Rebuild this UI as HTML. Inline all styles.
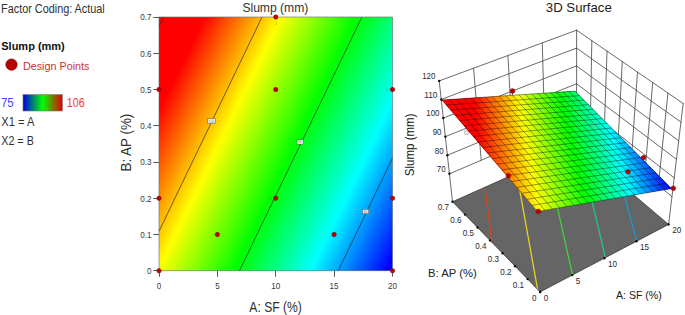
<!DOCTYPE html>
<html><head><meta charset="utf-8"><style>html,body{margin:0;padding:0;background:#fff;overflow:hidden}svg{display:block}</style></head>
<body>
<svg width="685" height="315" viewBox="0 0 685 315" font-family="Liberation Sans, sans-serif">
<defs>
<linearGradient id="lg" x1="0" y1="0" x2="1" y2="0"><stop offset="0" stop-color="#0000e6"/><stop offset="0.5" stop-color="#00ff00"/><stop offset="1" stop-color="#e60000"/></linearGradient>
<linearGradient id="cg" gradientUnits="userSpaceOnUse" x1="167.9" y1="91.7" x2="415.5" y2="211.5"><stop offset="0" stop-color="#ff0000"/><stop offset="0.25" stop-color="#ffff00"/><stop offset="0.5" stop-color="#00ff00"/><stop offset="0.75" stop-color="#00ffff"/><stop offset="1" stop-color="#0000ff"/></linearGradient>
</defs>
<rect width="685" height="315" fill="#fff"/>
<text x="1.1" y="13" font-size="12.14" fill="#303030" textLength="103.65" lengthAdjust="spacingAndGlyphs" >Factor Coding: Actual</text>
<text x="1.25" y="50" font-size="10.47" fill="#111" textLength="63.55" lengthAdjust="spacingAndGlyphs" font-weight="bold" >Slump (mm)</text>
<circle cx="11.5" cy="64.6" r="5.6" fill="#bb0000" stroke="#7a0000" stroke-width="0.8"/>
<text x="22.95" y="70" font-size="11.63" fill="#c83232" textLength="66.55" lengthAdjust="spacingAndGlyphs" >Design Points</text>
<text x="0.9" y="107" font-size="12.58" fill="#4646ff" textLength="12.75" lengthAdjust="spacingAndGlyphs" >75</text>
<rect x="23" y="94.6" width="39.4" height="16.4" fill="url(#lg)" stroke="#777" stroke-width="0.6"/>
<text x="66.8" y="107" font-size="12.58" fill="#ff3232" textLength="17.85" lengthAdjust="spacingAndGlyphs" >106</text>
<text x="1.25" y="126" font-size="12.35" fill="#303030" textLength="33.2" lengthAdjust="spacingAndGlyphs" >X1 = A</text>
<text x="1.25" y="145" font-size="12.35" fill="#303030" textLength="32.55" lengthAdjust="spacingAndGlyphs" >X2 = B</text>
<rect x="159" y="17" width="233.5" height="253.8" fill="url(#cg)"/>
<line x1="163.6" y1="17" x2="159" y2="26.4" stroke="#202020" stroke-width="0.65"/>
<line x1="262" y1="17" x2="159" y2="231.3" stroke="#202020" stroke-width="0.65"/>
<line x1="361.9" y1="17" x2="239.4" y2="270.8" stroke="#202020" stroke-width="0.65"/>
<line x1="392.5" y1="158.1" x2="338.2" y2="270.8" stroke="#202020" stroke-width="0.65"/>
<rect x="159" y="17" width="233.5" height="253.8" fill="none" stroke="#666" stroke-width="0.6"/>
<rect x="207.55" y="118.85" width="7.9" height="4.7" fill="#f6f6f6" stroke="#555" stroke-width="0.5"/>
<text x="211.5" y="122.5" font-size="3.6" fill="#777" text-anchor="middle">100</text>
<rect x="297.05" y="139.85" width="6.3" height="4.3" fill="#f6f6f6" stroke="#555" stroke-width="0.5"/>
<text x="300.2" y="143.3" font-size="3.6" fill="#777" text-anchor="middle">90</text>
<rect x="362.3" y="209.25" width="6.4" height="4.5" fill="#f6f6f6" stroke="#555" stroke-width="0.5"/>
<text x="365.5" y="212.8" font-size="3.6" fill="#777" text-anchor="middle">80</text>
<line x1="153.3" y1="270.5" x2="159" y2="270.5" stroke="#555" stroke-width="1"/>
<text x="151.6" y="274.1" font-size="8.8" fill="#3a3a3a" text-anchor="end" textLength="4.5" lengthAdjust="spacingAndGlyphs" >0</text>
<line x1="153.3" y1="234.5" x2="159" y2="234.5" stroke="#555" stroke-width="1"/>
<text x="151.6" y="237.84" font-size="8.8" fill="#3a3a3a" text-anchor="end" textLength="11.26" lengthAdjust="spacingAndGlyphs" >0.1</text>
<line x1="153.3" y1="198.5" x2="159" y2="198.5" stroke="#555" stroke-width="1"/>
<text x="151.6" y="201.59" font-size="8.8" fill="#3a3a3a" text-anchor="end" textLength="11.26" lengthAdjust="spacingAndGlyphs" >0.2</text>
<line x1="153.3" y1="162.5" x2="159" y2="162.5" stroke="#555" stroke-width="1"/>
<text x="151.6" y="165.33" font-size="8.8" fill="#3a3a3a" text-anchor="end" textLength="11.26" lengthAdjust="spacingAndGlyphs" >0.3</text>
<line x1="153.3" y1="125.5" x2="159" y2="125.5" stroke="#555" stroke-width="1"/>
<text x="151.6" y="129.07" font-size="8.8" fill="#3a3a3a" text-anchor="end" textLength="11.26" lengthAdjust="spacingAndGlyphs" >0.4</text>
<line x1="153.3" y1="89.5" x2="159" y2="89.5" stroke="#555" stroke-width="1"/>
<text x="151.6" y="92.81" font-size="8.8" fill="#3a3a3a" text-anchor="end" textLength="11.26" lengthAdjust="spacingAndGlyphs" >0.5</text>
<line x1="153.3" y1="53.5" x2="159" y2="53.5" stroke="#555" stroke-width="1"/>
<text x="151.6" y="56.56" font-size="8.8" fill="#3a3a3a" text-anchor="end" textLength="11.26" lengthAdjust="spacingAndGlyphs" >0.6</text>
<line x1="153.3" y1="17.5" x2="159" y2="17.5" stroke="#555" stroke-width="1"/>
<text x="151.6" y="20.3" font-size="8.8" fill="#3a3a3a" text-anchor="end" textLength="11.26" lengthAdjust="spacingAndGlyphs" >0.7</text>
<line x1="159.5" y1="270.8" x2="159.5" y2="276.7" stroke="#555" stroke-width="1"/>
<text x="159" y="289.1" font-size="8.8" fill="#3a3a3a" text-anchor="middle" textLength="4.5" lengthAdjust="spacingAndGlyphs" >0</text>
<line x1="217.5" y1="270.8" x2="217.5" y2="276.7" stroke="#555" stroke-width="1"/>
<text x="217.38" y="289.1" font-size="8.8" fill="#3a3a3a" text-anchor="middle" textLength="4.5" lengthAdjust="spacingAndGlyphs" >5</text>
<line x1="275.5" y1="270.8" x2="275.5" y2="276.7" stroke="#555" stroke-width="1"/>
<text x="275.75" y="289.1" font-size="8.8" fill="#3a3a3a" text-anchor="middle" textLength="9.01" lengthAdjust="spacingAndGlyphs" >10</text>
<line x1="334.5" y1="270.8" x2="334.5" y2="276.7" stroke="#555" stroke-width="1"/>
<text x="334.12" y="289.1" font-size="8.8" fill="#3a3a3a" text-anchor="middle" textLength="9.01" lengthAdjust="spacingAndGlyphs" >15</text>
<line x1="392.5" y1="270.8" x2="392.5" y2="276.7" stroke="#555" stroke-width="1"/>
<text x="392.5" y="289.1" font-size="8.8" fill="#3a3a3a" text-anchor="middle" textLength="9.01" lengthAdjust="spacingAndGlyphs" >20</text>
<text x="249.35" y="311.9" font-size="14.46" fill="#303030" textLength="52.4" lengthAdjust="spacingAndGlyphs" >A: SF (%)</text>
<text transform="translate(131.2,170.5) rotate(-90)" x="-1.00" y="0" font-size="14.97" fill="#303030" textLength="57.75" lengthAdjust="spacingAndGlyphs">B: AP (%)</text>
<text x="242.4" y="11.6" font-size="12.43" fill="#303030" textLength="65.85" lengthAdjust="spacingAndGlyphs" >Slump (mm)</text>
<circle cx="275.75" cy="17" r="2.2" fill="#c00000" stroke="#800000" stroke-width="0.5"/>
<circle cx="159" cy="89.51" r="2.2" fill="#c00000" stroke="#800000" stroke-width="0.5"/>
<circle cx="275.75" cy="89.51" r="2.2" fill="#c00000" stroke="#800000" stroke-width="0.5"/>
<circle cx="392.5" cy="89.51" r="2.2" fill="#c00000" stroke="#800000" stroke-width="0.5"/>
<circle cx="159" cy="198.29" r="2.2" fill="#c00000" stroke="#800000" stroke-width="0.5"/>
<circle cx="275.75" cy="198.29" r="2.2" fill="#c00000" stroke="#800000" stroke-width="0.5"/>
<circle cx="392.5" cy="198.29" r="2.2" fill="#c00000" stroke="#800000" stroke-width="0.5"/>
<circle cx="217.38" cy="234.54" r="2.2" fill="#c00000" stroke="#800000" stroke-width="0.5"/>
<circle cx="334.12" cy="234.54" r="2.2" fill="#c00000" stroke="#800000" stroke-width="0.5"/>
<circle cx="159" cy="270.8" r="2.2" fill="#c00000" stroke="#800000" stroke-width="0.5"/>
<circle cx="392.5" cy="270.8" r="2.2" fill="#c00000" stroke="#800000" stroke-width="0.5"/>
<line x1="449.43" y1="173.82" x2="576.6" y2="119.51" stroke="#444" stroke-width="0.8" stroke-linecap="round"/>
<line x1="576.6" y1="119.51" x2="671.97" y2="196.5" stroke="#444" stroke-width="0.8" stroke-linecap="round"/>
<line x1="447.38" y1="155.24" x2="576.6" y2="101.65" stroke="#444" stroke-width="0.8" stroke-linecap="round"/>
<line x1="576.6" y1="101.65" x2="674.22" y2="177.9" stroke="#444" stroke-width="0.8" stroke-linecap="round"/>
<line x1="445.34" y1="136.65" x2="576.6" y2="83.78" stroke="#444" stroke-width="0.8" stroke-linecap="round"/>
<line x1="576.6" y1="83.78" x2="676.46" y2="159.3" stroke="#444" stroke-width="0.8" stroke-linecap="round"/>
<line x1="443.29" y1="118.07" x2="576.6" y2="65.92" stroke="#444" stroke-width="0.8" stroke-linecap="round"/>
<line x1="576.6" y1="65.92" x2="678.71" y2="140.7" stroke="#444" stroke-width="0.8" stroke-linecap="round"/>
<line x1="441.25" y1="99.48" x2="576.6" y2="48.06" stroke="#444" stroke-width="0.8" stroke-linecap="round"/>
<line x1="576.6" y1="48.06" x2="680.95" y2="122.1" stroke="#444" stroke-width="0.8" stroke-linecap="round"/>
<line x1="439.2" y1="80.9" x2="576.6" y2="30.2" stroke="#444" stroke-width="0.8" stroke-linecap="round"/>
<line x1="576.6" y1="30.2" x2="683.2" y2="103.5" stroke="#444" stroke-width="0.8" stroke-linecap="round"/>
<line x1="481.22" y1="160.24" x2="473.55" y2="68.23" stroke="#444" stroke-width="0.8" stroke-linecap="round"/>
<line x1="513.02" y1="146.67" x2="507.9" y2="55.55" stroke="#444" stroke-width="0.8" stroke-linecap="round"/>
<line x1="544.81" y1="133.09" x2="542.25" y2="42.88" stroke="#444" stroke-width="0.8" stroke-linecap="round"/>
<line x1="658.35" y1="185.5" x2="667.97" y2="93.03" stroke="#444" stroke-width="0.8" stroke-linecap="round"/>
<line x1="644.72" y1="174.5" x2="652.74" y2="82.56" stroke="#444" stroke-width="0.8" stroke-linecap="round"/>
<line x1="631.1" y1="163.5" x2="637.51" y2="72.09" stroke="#444" stroke-width="0.8" stroke-linecap="round"/>
<line x1="617.47" y1="152.5" x2="622.29" y2="61.61" stroke="#444" stroke-width="0.8" stroke-linecap="round"/>
<line x1="603.85" y1="141.51" x2="607.06" y2="51.14" stroke="#444" stroke-width="0.8" stroke-linecap="round"/>
<line x1="590.22" y1="130.51" x2="591.83" y2="40.67" stroke="#444" stroke-width="0.8" stroke-linecap="round"/>
<line x1="452.5" y1="201.7" x2="439.2" y2="80.9" stroke="#444" stroke-width="0.8" stroke-linecap="round"/>
<line x1="576.6" y1="146.3" x2="576.6" y2="30.2" stroke="#444" stroke-width="0.8" stroke-linecap="round"/>
<line x1="668.6" y1="224.4" x2="683.2" y2="103.5" stroke="#444" stroke-width="0.8" stroke-linecap="round"/>
<clipPath id="fc"><polygon points="540.1,292 668.6,224.4 576.6,146.3 452.5,201.7"/></clipPath>
<polygon points="540.1,292 668.6,224.4 576.6,146.3 452.5,201.7" fill="#656565"/>
<g clip-path="url(#fc)">
<line x1="475.1" y1="106.7" x2="491.93" y2="243.38" stroke="#d2461e" stroke-width="1.3"/>
<line x1="494.95" y1="52.5" x2="538.56" y2="294.75" stroke="#e6d21e" stroke-width="1.3"/>
<line x1="536.1" y1="112.4" x2="573.33" y2="278.66" stroke="#3cd23c" stroke-width="1.3"/>
<line x1="573.25" y1="122.8" x2="606.14" y2="260.5" stroke="#1ec882" stroke-width="1.3"/>
<line x1="608.95" y1="139.1" x2="637.25" y2="242.63" stroke="#1e96d2" stroke-width="1.3"/>
</g>
<polygon points="540.1,292 668.6,224.4 576.6,146.3 452.5,201.7" fill="none" stroke="#2a2a2a" stroke-width="0.7"/>
<circle cx="466.6" cy="132.4" r="2.4" fill="#f5dada" stroke="#a5a5a5" stroke-width="0.6"/>
<defs>
<linearGradient id="sg" gradientUnits="userSpaceOnUse" x1="485.99" y1="162.44" x2="656.26" y2="123.17"><stop offset="0" stop-color="#f00"/><stop offset="0.25" stop-color="#ff0"/><stop offset="0.5" stop-color="#0f0"/><stop offset="0.75" stop-color="#0ff"/><stop offset="1" stop-color="#00f"/></linearGradient>
<linearGradient id="sg00" gradientUnits="userSpaceOnUse" x1="488.9" y1="204.24" x2="679.27" y2="166.44"><stop offset="0" stop-color="#f00"/><stop offset="0.25" stop-color="#ff0"/><stop offset="0.5" stop-color="#0f0"/><stop offset="0.75" stop-color="#0ff"/><stop offset="1" stop-color="#00f"/></linearGradient>
<linearGradient id="sg01" gradientUnits="userSpaceOnUse" x1="483.03" y1="170.76" x2="672.91" y2="138.1"><stop offset="0" stop-color="#f00"/><stop offset="0.25" stop-color="#ff0"/><stop offset="0.5" stop-color="#0f0"/><stop offset="0.75" stop-color="#0ff"/><stop offset="1" stop-color="#00f"/></linearGradient>
<linearGradient id="sg02" gradientUnits="userSpaceOnUse" x1="478.28" y1="139.71" x2="667.62" y2="112.3"><stop offset="0" stop-color="#f00"/><stop offset="0.25" stop-color="#ff0"/><stop offset="0.5" stop-color="#0f0"/><stop offset="0.75" stop-color="#0ff"/><stop offset="1" stop-color="#00f"/></linearGradient>
<linearGradient id="sg03" gradientUnits="userSpaceOnUse" x1="474.56" y1="111.02" x2="663.28" y2="88.97"><stop offset="0" stop-color="#f00"/><stop offset="0.25" stop-color="#ff0"/><stop offset="0.5" stop-color="#0f0"/><stop offset="0.75" stop-color="#0ff"/><stop offset="1" stop-color="#00f"/></linearGradient>
<linearGradient id="sg10" gradientUnits="userSpaceOnUse" x1="494.78" y1="208.66" x2="670.99" y2="165.12"><stop offset="0" stop-color="#f00"/><stop offset="0.25" stop-color="#ff0"/><stop offset="0.5" stop-color="#0f0"/><stop offset="0.75" stop-color="#0ff"/><stop offset="1" stop-color="#00f"/></linearGradient>
<linearGradient id="sg11" gradientUnits="userSpaceOnUse" x1="487.33" y1="174.9" x2="663.46" y2="135.82"><stop offset="0" stop-color="#f00"/><stop offset="0.25" stop-color="#ff0"/><stop offset="0.5" stop-color="#0f0"/><stop offset="0.75" stop-color="#0ff"/><stop offset="1" stop-color="#00f"/></linearGradient>
<linearGradient id="sg12" gradientUnits="userSpaceOnUse" x1="481.06" y1="143.31" x2="657.11" y2="108.8"><stop offset="0" stop-color="#f00"/><stop offset="0.25" stop-color="#ff0"/><stop offset="0.5" stop-color="#0f0"/><stop offset="0.75" stop-color="#0ff"/><stop offset="1" stop-color="#00f"/></linearGradient>
<linearGradient id="sg13" gradientUnits="userSpaceOnUse" x1="475.89" y1="113.84" x2="651.81" y2="84.03"><stop offset="0" stop-color="#f00"/><stop offset="0.25" stop-color="#ff0"/><stop offset="0.5" stop-color="#0f0"/><stop offset="0.75" stop-color="#0ff"/><stop offset="1" stop-color="#00f"/></linearGradient>
<linearGradient id="sg20" gradientUnits="userSpaceOnUse" x1="503.33" y1="214.63" x2="666.24" y2="166.83"><stop offset="0" stop-color="#f00"/><stop offset="0.25" stop-color="#ff0"/><stop offset="0.5" stop-color="#0f0"/><stop offset="0.75" stop-color="#0ff"/><stop offset="1" stop-color="#00f"/></linearGradient>
<linearGradient id="sg21" gradientUnits="userSpaceOnUse" x1="494.36" y1="180.88" x2="657.49" y2="136.93"><stop offset="0" stop-color="#f00"/><stop offset="0.25" stop-color="#ff0"/><stop offset="0.5" stop-color="#0f0"/><stop offset="0.75" stop-color="#0ff"/><stop offset="1" stop-color="#00f"/></linearGradient>
<linearGradient id="sg22" gradientUnits="userSpaceOnUse" x1="486.58" y1="149.08" x2="649.95" y2="109.1"><stop offset="0" stop-color="#f00"/><stop offset="0.25" stop-color="#ff0"/><stop offset="0.5" stop-color="#0f0"/><stop offset="0.75" stop-color="#0ff"/><stop offset="1" stop-color="#00f"/></linearGradient>
<linearGradient id="sg23" gradientUnits="userSpaceOnUse" x1="479.94" y1="119.17" x2="643.52" y2="83.28"><stop offset="0" stop-color="#f00"/><stop offset="0.25" stop-color="#ff0"/><stop offset="0.5" stop-color="#0f0"/><stop offset="0.75" stop-color="#0ff"/><stop offset="1" stop-color="#00f"/></linearGradient>
<linearGradient id="sg30" gradientUnits="userSpaceOnUse" x1="514.19" y1="221.47" x2="664.73" y2="170.66"><stop offset="0" stop-color="#f00"/><stop offset="0.25" stop-color="#ff0"/><stop offset="0.5" stop-color="#0f0"/><stop offset="0.75" stop-color="#0ff"/><stop offset="1" stop-color="#00f"/></linearGradient>
<linearGradient id="sg31" gradientUnits="userSpaceOnUse" x1="503.8" y1="187.97" x2="654.76" y2="140.48"><stop offset="0" stop-color="#f00"/><stop offset="0.25" stop-color="#ff0"/><stop offset="0.5" stop-color="#0f0"/><stop offset="0.75" stop-color="#0ff"/><stop offset="1" stop-color="#00f"/></linearGradient>
<linearGradient id="sg32" gradientUnits="userSpaceOnUse" x1="494.6" y1="156.23" x2="646" y2="112.15"><stop offset="0" stop-color="#f00"/><stop offset="0.25" stop-color="#ff0"/><stop offset="0.5" stop-color="#0f0"/><stop offset="0.75" stop-color="#0ff"/><stop offset="1" stop-color="#00f"/></linearGradient>
<linearGradient id="sg33" gradientUnits="userSpaceOnUse" x1="486.53" y1="126.19" x2="638.39" y2="85.63"><stop offset="0" stop-color="#f00"/><stop offset="0.25" stop-color="#ff0"/><stop offset="0.5" stop-color="#0f0"/><stop offset="0.75" stop-color="#0ff"/><stop offset="1" stop-color="#00f"/></linearGradient>
</defs>
<polygon points="537.4,211.5 671.5,188.6 575,91.1 442,100" fill="url(#sg)"/>
<polygon points="537.4,211.5 574.18,205.22 548.39,176.3 511.71,181.48" fill="url(#sg00)"/>
<polygon points="511.71,181.48 548.39,176.3 523.85,148.79 487.31,152.96" fill="url(#sg01)"/>
<polygon points="487.31,152.96 523.85,148.79 500.48,122.58 464.1,125.83" fill="url(#sg02)"/>
<polygon points="464.1,125.83 500.48,122.58 478.18,97.58 442,100" fill="url(#sg03)"/>
<polygon points="574.18,205.22 608.66,199.33 582.83,171.44 548.39,176.3" fill="url(#sg10)"/>
<polygon points="548.39,176.3 582.83,171.44 558.21,144.86 523.85,148.79" fill="url(#sg11)"/>
<polygon points="523.85,148.79 558.21,144.86 534.73,119.51 500.48,122.58" fill="url(#sg12)"/>
<polygon points="500.48,122.58 534.73,119.51 512.3,95.3 478.18,97.58" fill="url(#sg13)"/>
<polygon points="608.66,199.33 641.04,193.8 615.21,166.87 582.83,171.44" fill="url(#sg20)"/>
<polygon points="582.83,171.44 615.21,166.87 590.57,141.17 558.21,144.86" fill="url(#sg21)"/>
<polygon points="558.21,144.86 590.57,141.17 567.03,116.62 534.73,119.51" fill="url(#sg22)"/>
<polygon points="534.73,119.51 567.03,116.62 544.52,93.14 512.3,95.3" fill="url(#sg23)"/>
<polygon points="641.04,193.8 671.5,188.6 645.73,162.56 615.21,166.87" fill="url(#sg30)"/>
<polygon points="615.21,166.87 645.73,162.56 621.11,137.68 590.57,141.17" fill="url(#sg31)"/>
<polygon points="590.57,141.17 621.11,137.68 597.55,113.89 567.03,116.62" fill="url(#sg32)"/>
<polygon points="567.03,116.62 597.55,113.89 575,91.1 544.52,93.14" fill="url(#sg33)"/>
<line x1="537.4" y1="211.5" x2="442" y2="100" stroke="#000" stroke-opacity="0.42" stroke-width="0.95"/>
<line x1="537.4" y1="211.5" x2="671.5" y2="188.6" stroke="#000" stroke-opacity="0.42" stroke-width="0.95"/>
<line x1="544.95" y1="210.21" x2="449.41" y2="99.5" stroke="#000" stroke-opacity="0.42" stroke-width="0.95"/>
<line x1="532.15" y1="205.37" x2="666.25" y2="183.3" stroke="#000" stroke-opacity="0.42" stroke-width="0.95"/>
<line x1="552.41" y1="208.94" x2="456.73" y2="99.01" stroke="#000" stroke-opacity="0.42" stroke-width="0.95"/>
<line x1="526.96" y1="199.3" x2="661.05" y2="178.04" stroke="#000" stroke-opacity="0.42" stroke-width="0.95"/>
<line x1="559.76" y1="207.68" x2="463.97" y2="98.53" stroke="#000" stroke-opacity="0.42" stroke-width="0.95"/>
<line x1="521.83" y1="193.3" x2="655.9" y2="172.83" stroke="#000" stroke-opacity="0.42" stroke-width="0.95"/>
<line x1="567.02" y1="206.44" x2="471.12" y2="98.05" stroke="#000" stroke-opacity="0.42" stroke-width="0.95"/>
<line x1="516.74" y1="187.36" x2="650.79" y2="167.68" stroke="#000" stroke-opacity="0.42" stroke-width="0.95"/>
<line x1="574.18" y1="205.22" x2="478.18" y2="97.58" stroke="#000" stroke-opacity="0.42" stroke-width="0.95"/>
<line x1="511.71" y1="181.48" x2="645.73" y2="162.56" stroke="#000" stroke-opacity="0.42" stroke-width="0.95"/>
<line x1="581.26" y1="204.01" x2="485.17" y2="97.11" stroke="#000" stroke-opacity="0.42" stroke-width="0.95"/>
<line x1="506.73" y1="175.66" x2="640.72" y2="157.5" stroke="#000" stroke-opacity="0.42" stroke-width="0.95"/>
<line x1="588.24" y1="202.82" x2="492.07" y2="96.65" stroke="#000" stroke-opacity="0.42" stroke-width="0.95"/>
<line x1="501.8" y1="169.89" x2="635.75" y2="152.48" stroke="#000" stroke-opacity="0.42" stroke-width="0.95"/>
<line x1="595.13" y1="201.64" x2="498.89" y2="96.19" stroke="#000" stroke-opacity="0.42" stroke-width="0.95"/>
<line x1="496.92" y1="164.19" x2="630.82" y2="147.5" stroke="#000" stroke-opacity="0.42" stroke-width="0.95"/>
<line x1="601.94" y1="200.48" x2="505.63" y2="95.74" stroke="#000" stroke-opacity="0.42" stroke-width="0.95"/>
<line x1="492.09" y1="158.55" x2="625.94" y2="142.57" stroke="#000" stroke-opacity="0.42" stroke-width="0.95"/>
<line x1="608.66" y1="199.33" x2="512.3" y2="95.3" stroke="#000" stroke-opacity="0.42" stroke-width="0.95"/>
<line x1="487.31" y1="152.96" x2="621.11" y2="137.68" stroke="#000" stroke-opacity="0.42" stroke-width="0.95"/>
<line x1="615.3" y1="198.2" x2="518.89" y2="94.85" stroke="#000" stroke-opacity="0.42" stroke-width="0.95"/>
<line x1="482.58" y1="147.42" x2="616.31" y2="132.84" stroke="#000" stroke-opacity="0.42" stroke-width="0.95"/>
<line x1="621.85" y1="197.08" x2="525.41" y2="94.42" stroke="#000" stroke-opacity="0.42" stroke-width="0.95"/>
<line x1="477.89" y1="141.95" x2="611.56" y2="128.04" stroke="#000" stroke-opacity="0.42" stroke-width="0.95"/>
<line x1="628.32" y1="195.97" x2="531.85" y2="93.99" stroke="#000" stroke-opacity="0.42" stroke-width="0.95"/>
<line x1="473.25" y1="136.52" x2="606.85" y2="123.28" stroke="#000" stroke-opacity="0.42" stroke-width="0.95"/>
<line x1="634.72" y1="194.88" x2="538.22" y2="93.56" stroke="#000" stroke-opacity="0.42" stroke-width="0.95"/>
<line x1="468.65" y1="131.15" x2="602.18" y2="118.56" stroke="#000" stroke-opacity="0.42" stroke-width="0.95"/>
<line x1="641.04" y1="193.8" x2="544.52" y2="93.14" stroke="#000" stroke-opacity="0.42" stroke-width="0.95"/>
<line x1="464.1" y1="125.83" x2="597.55" y2="113.89" stroke="#000" stroke-opacity="0.42" stroke-width="0.95"/>
<line x1="647.28" y1="192.74" x2="550.75" y2="92.72" stroke="#000" stroke-opacity="0.42" stroke-width="0.95"/>
<line x1="459.6" y1="120.56" x2="592.96" y2="109.25" stroke="#000" stroke-opacity="0.42" stroke-width="0.95"/>
<line x1="653.44" y1="191.68" x2="556.91" y2="92.31" stroke="#000" stroke-opacity="0.42" stroke-width="0.95"/>
<line x1="455.13" y1="115.35" x2="588.41" y2="104.65" stroke="#000" stroke-opacity="0.42" stroke-width="0.95"/>
<line x1="659.53" y1="190.64" x2="563.01" y2="91.9" stroke="#000" stroke-opacity="0.42" stroke-width="0.95"/>
<line x1="450.71" y1="110.18" x2="583.9" y2="100.1" stroke="#000" stroke-opacity="0.42" stroke-width="0.95"/>
<line x1="665.55" y1="189.62" x2="569.04" y2="91.5" stroke="#000" stroke-opacity="0.42" stroke-width="0.95"/>
<line x1="446.34" y1="105.07" x2="579.43" y2="95.58" stroke="#000" stroke-opacity="0.42" stroke-width="0.95"/>
<line x1="671.5" y1="188.6" x2="575" y2="91.1" stroke="#000" stroke-opacity="0.42" stroke-width="0.95"/>
<line x1="442" y1="100" x2="575" y2="91.1" stroke="#000" stroke-opacity="0.42" stroke-width="0.95"/>
<line x1="512.5" y1="91" x2="512.3" y2="95.3" stroke="#333" stroke-width="0.8"/>
<circle cx="512.5" cy="91" r="2.4" fill="#b80000" stroke="#7a0000" stroke-width="0.4"/>
<circle cx="508.4" cy="175.7" r="2.4" fill="#b80000" stroke="#7a0000" stroke-width="0.4"/>
<circle cx="538.3" cy="211.3" r="2.4" fill="#b80000" stroke="#7a0000" stroke-width="0.4"/>
<circle cx="673.3" cy="188.3" r="2.4" fill="#b80000" stroke="#7a0000" stroke-width="0.4"/>
<circle cx="643.6" cy="157.6" r="2.4" fill="#b80000" stroke="#7a0000" stroke-width="0.4"/>
<circle cx="628" cy="171.8" r="2.4" fill="#b80000" stroke="#7a0000" stroke-width="0.4"/>
<circle cx="449.43" cy="173.82" r="1.2" fill="#111"/>
<text x="445.63" y="172.22" font-size="8.8" fill="#2a2a2a" text-anchor="end" textLength="8.81" lengthAdjust="spacingAndGlyphs" >70</text>
<circle cx="447.38" cy="155.24" r="1.2" fill="#111"/>
<text x="443.58" y="153.64" font-size="8.8" fill="#2a2a2a" text-anchor="end" textLength="8.81" lengthAdjust="spacingAndGlyphs" >80</text>
<circle cx="445.34" cy="136.65" r="1.2" fill="#111"/>
<text x="441.54" y="135.05" font-size="8.8" fill="#2a2a2a" text-anchor="end" textLength="8.81" lengthAdjust="spacingAndGlyphs" >90</text>
<circle cx="443.29" cy="118.07" r="1.2" fill="#111"/>
<text x="439.49" y="116.47" font-size="8.8" fill="#2a2a2a" text-anchor="end" textLength="13.22" lengthAdjust="spacingAndGlyphs" >100</text>
<circle cx="441.25" cy="99.48" r="1.2" fill="#111"/>
<text x="437.45" y="97.88" font-size="8.8" fill="#2a2a2a" text-anchor="end" textLength="13.22" lengthAdjust="spacingAndGlyphs" >110</text>
<circle cx="439.2" cy="80.9" r="1.2" fill="#111"/>
<text x="435.4" y="79.3" font-size="8.8" fill="#2a2a2a" text-anchor="end" textLength="13.22" lengthAdjust="spacingAndGlyphs" >120</text>
<circle cx="540.1" cy="292" r="1.2" fill="#111"/>
<text x="536.5" y="300.7" font-size="8.8" fill="#2a2a2a" text-anchor="end" textLength="4.5" lengthAdjust="spacingAndGlyphs" >0</text>
<circle cx="527.59" cy="279.1" r="1.2" fill="#111"/>
<text x="523.99" y="287.8" font-size="8.8" fill="#2a2a2a" text-anchor="end" textLength="11.26" lengthAdjust="spacingAndGlyphs" >0.1</text>
<circle cx="515.07" cy="266.2" r="1.2" fill="#111"/>
<text x="511.47" y="274.9" font-size="8.8" fill="#2a2a2a" text-anchor="end" textLength="11.26" lengthAdjust="spacingAndGlyphs" >0.2</text>
<circle cx="502.56" cy="253.3" r="1.2" fill="#111"/>
<text x="498.96" y="262" font-size="8.8" fill="#2a2a2a" text-anchor="end" textLength="11.26" lengthAdjust="spacingAndGlyphs" >0.3</text>
<circle cx="490.04" cy="240.4" r="1.2" fill="#111"/>
<text x="486.44" y="249.1" font-size="8.8" fill="#2a2a2a" text-anchor="end" textLength="11.26" lengthAdjust="spacingAndGlyphs" >0.4</text>
<circle cx="477.53" cy="227.5" r="1.2" fill="#111"/>
<text x="473.93" y="236.2" font-size="8.8" fill="#2a2a2a" text-anchor="end" textLength="11.26" lengthAdjust="spacingAndGlyphs" >0.5</text>
<circle cx="465.01" cy="214.6" r="1.2" fill="#111"/>
<text x="461.41" y="223.3" font-size="8.8" fill="#2a2a2a" text-anchor="end" textLength="11.26" lengthAdjust="spacingAndGlyphs" >0.6</text>
<circle cx="452.5" cy="201.7" r="1.2" fill="#111"/>
<text x="448.9" y="210.4" font-size="8.8" fill="#2a2a2a" text-anchor="end" textLength="11.26" lengthAdjust="spacingAndGlyphs" >0.7</text>
<circle cx="540.1" cy="292" r="1.2" fill="#111"/>
<text x="543.7" y="300.7" font-size="8.8" fill="#2a2a2a" textLength="4.5" lengthAdjust="spacingAndGlyphs" >0</text>
<circle cx="572.23" cy="275.1" r="1.2" fill="#111"/>
<text x="575.83" y="283.8" font-size="8.8" fill="#2a2a2a" textLength="4.5" lengthAdjust="spacingAndGlyphs" >5</text>
<circle cx="604.35" cy="258.2" r="1.2" fill="#111"/>
<text x="607.95" y="266.9" font-size="8.8" fill="#2a2a2a" textLength="9.01" lengthAdjust="spacingAndGlyphs" >10</text>
<circle cx="636.48" cy="241.3" r="1.2" fill="#111"/>
<text x="640.08" y="250" font-size="8.8" fill="#2a2a2a" textLength="9.01" lengthAdjust="spacingAndGlyphs" >15</text>
<circle cx="668.6" cy="224.4" r="1.2" fill="#111"/>
<text x="672.2" y="233.1" font-size="8.8" fill="#2a2a2a" textLength="9.01" lengthAdjust="spacingAndGlyphs" >20</text>
<text x="545.85" y="12" font-size="12.94" fill="#202020" textLength="65.95" lengthAdjust="spacingAndGlyphs" >3D Surface</text>
<text x="428" y="276.8" font-size="11.63" fill="#202020" textLength="48.75" lengthAdjust="spacingAndGlyphs" >B: AP (%)</text>
<text x="616" y="298.7" font-size="11.63" fill="#202020" textLength="45.8" lengthAdjust="spacingAndGlyphs" >A: SF (%)</text>
<text transform="translate(414.4,175.7) rotate(-90)" x="-0.60" y="0" font-size="13.59" fill="#202020" textLength="62.85" lengthAdjust="spacingAndGlyphs">Slump (mm)</text>
<text x="164" y="93.6" font-size="4.2" fill="#500" fill-opacity="0.4" text-anchor="middle">2</text>
<text x="275.6" y="24.6" font-size="4.2" fill="#500" fill-opacity="0.4" text-anchor="middle">2</text>
<text x="387" y="91.4" font-size="4.2" fill="#500" fill-opacity="0.4" text-anchor="middle">2</text>
<text x="270.4" y="200.1" font-size="4.2" fill="#500" fill-opacity="0.4" text-anchor="middle">2</text>
</svg>
</body></html>
